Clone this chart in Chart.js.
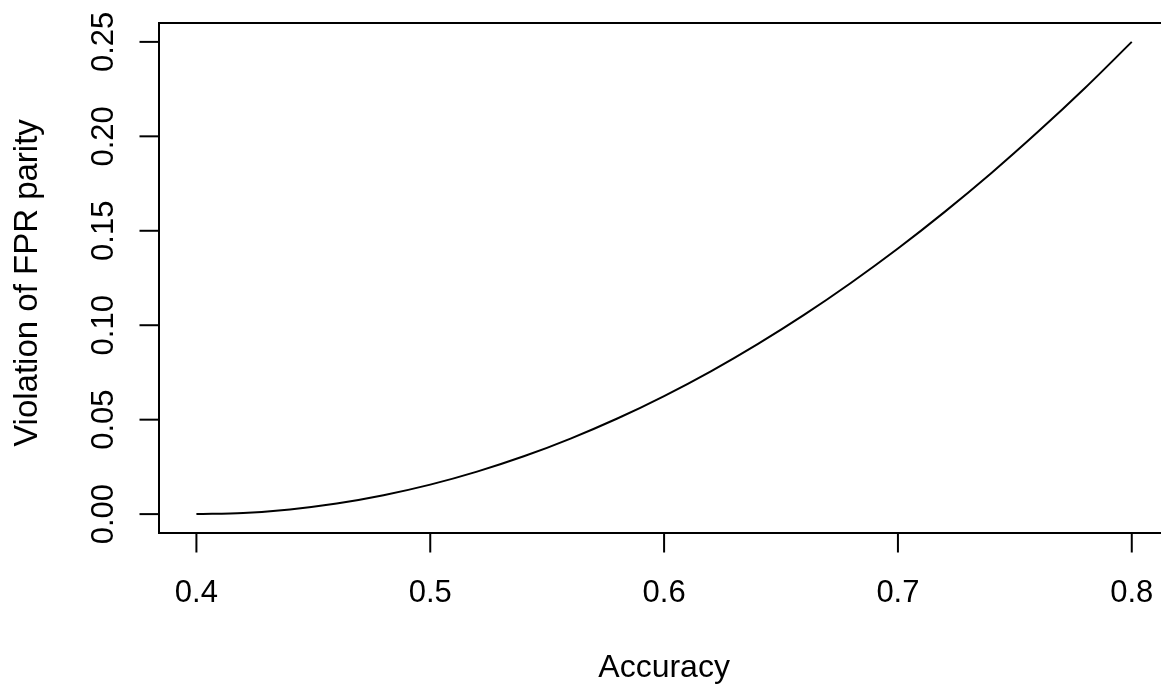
<!DOCTYPE html>
<html>
<head>
<meta charset="utf-8">
<script src="https://cdn.jsdelivr.net/npm/chart.js@4.4.1/dist/chart.umd.min.js"></script>
<style>
  html, body { margin: 0; padding: 0; background: #ffffff; }
  #wrap { width: 1161px; height: 685px; }
</style>
</head>
<body>
<div id="wrap"><canvas id="c" width="1161" height="685"></canvas></div>
<script>
// Data
const accuracy = [0.40, 0.42, 0.44, 0.46, 0.48, 0.50, 0.52, 0.54, 0.56, 0.58, 0.60,
                  0.62, 0.64, 0.66, 0.68, 0.70, 0.72, 0.74, 0.76, 0.78, 0.80];
const violation = [0.0000, 0.0006, 0.0025, 0.0056, 0.0100, 0.0156, 0.0225, 0.0306, 0.0400, 0.0506, 0.0625,
                   0.0756, 0.0900, 0.1056, 0.1225, 0.1406, 0.1600, 0.1806, 0.2025, 0.2256, 0.2500];
const xTicks = [0.4, 0.5, 0.6, 0.7, 0.8];
const xTickLabels = ["0.4", "0.5", "0.6", "0.7", "0.8"];
const yTicks = [0.00, 0.05, 0.10, 0.15, 0.20, 0.25];
const yTickLabels = ["0.00", "0.05", "0.10", "0.15", "0.20", "0.25"];
const xTitle = "Accuracy";
const yTitle = "Violation of FPR parity";

const FONT = '31px "Liberation Sans", Arial, Helvetica, sans-serif';
const TITLE_FONT = '32px "Liberation Sans", Arial, Helvetica, sans-serif';
const YTITLE_FONT = '33px "Liberation Sans", Arial, Helvetica, sans-serif';

const rAxes = {
  id: 'rAxes',
  afterDraw(chart) {
    const ctx = chart.ctx;
    const a = chart.chartArea;
    const xs = chart.scales.x, ys = chart.scales.y;
    ctx.save();
    ctx.strokeStyle = '#000';
    ctx.lineWidth = 2;
    ctx.lineCap = 'butt';
    // box (right edge falls outside the picture)
    ctx.beginPath();
    ctx.moveTo(a.right + 5, a.top);
    ctx.lineTo(a.left, a.top);
    ctx.lineTo(a.left, a.bottom);
    ctx.lineTo(a.right + 5, a.bottom);
    ctx.stroke();
    // x ticks
    ctx.fillStyle = '#000';
    ctx.font = FONT;
    ctx.textAlign = 'center';
    ctx.textBaseline = 'alphabetic';
    xTicks.forEach((v, i) => {
      const px = xs.getPixelForValue(v);
      ctx.beginPath();
      ctx.moveTo(px, a.bottom);
      ctx.lineTo(px, a.bottom + 19.5);
      ctx.stroke();
      ctx.fillText(xTickLabels[i], px, 602);
    });
    // y ticks
    yTicks.forEach((v, i) => {
      const py = ys.getPixelForValue(v);
      ctx.beginPath();
      ctx.moveTo(a.left, py);
      ctx.lineTo(a.left - 19.5, py);
      ctx.stroke();
      ctx.save();
      ctx.translate(113, py);
      ctx.rotate(-Math.PI / 2);
      ctx.fillText(yTickLabels[i], 0, 0);
      ctx.restore();
    });
    // titles
    ctx.font = TITLE_FONT;
    ctx.fillText(xTitle, xs.getPixelForValue(0.6), 677);
    ctx.font = YTITLE_FONT;
    ctx.save();
    ctx.translate(37, 283);
    ctx.rotate(-Math.PI / 2);
    ctx.fillText(yTitle, 0, 0);
    ctx.restore();
    ctx.restore();
  }
};

new Chart(document.getElementById('c'), {
  type: 'line',
  data: {
    datasets: [{
      data: accuracy.map((x, i) => ({ x: x, y: violation[i] })),
      borderColor: '#000',
      borderWidth: 2,
      pointRadius: 0,
      fill: false,
      cubicInterpolationMode: 'monotone'
    }]
  },
  options: {
    responsive: false,
    animation: false,
    devicePixelRatio: 1,
    layout: { padding: { left: 159, top: 23, right: 0, bottom: 152 } },
    plugins: { legend: { display: false }, tooltip: { enabled: false } },
    scales: {
      x: { type: 'linear', min: 0.384, max: 0.8125, display: false },
      y: { type: 'linear', min: -0.01, max: 0.26, display: false }
    }
  },
  plugins: [rAxes]
});
</script>
</body>
</html>
